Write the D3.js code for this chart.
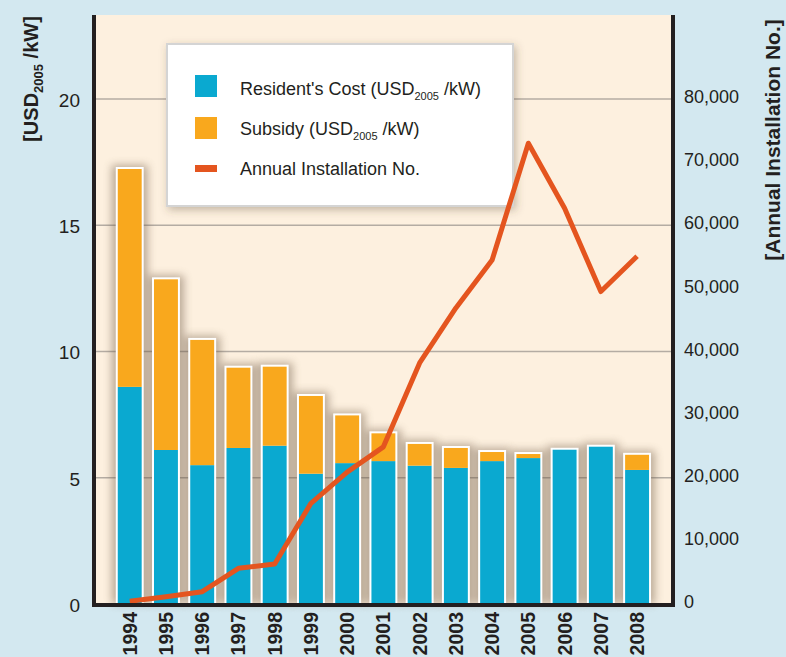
<!DOCTYPE html>
<html>
<head>
	<title>Resident's cost, subsidy and annual installations</title>
	<script src="https://d3js.org/d3.v7.min.js"></script>

	<style>
	body {
		margin: 0;
		background: #d3e8f0;
	}
	text {
		font-family: "Liberation Sans", Arial, sans-serif;
		fill: #231f20;
	}
	</style>
</head>

<body>
<script type="text/javascript">

	//Values
	var years = ["1994", "1995", "1996", "1997", "1998", "1999", "2000", "2001",
		"2002", "2003", "2004", "2005", "2006", "2007", "2008"]
	var residentCost = [8.6, 6.1, 5.5, 6.18, 6.27, 5.16, 5.58, 5.66, 5.48, 5.39, 5.66, 5.78, 6.11, 6.23, 5.31]
	var subsidy = [8.63, 6.76, 4.96, 3.18, 3.13, 3.08, 1.89, 1.1, 0.86, 0.79, 0.36, 0.16, 0, 0, 0.6]
	var installations = [450, 1150, 1950, 5650, 6340, 15950, 20900, 24900, 38200, 46900, 54500, 73000, 62700, 49500, 55100]
	var leftTicks = [0, 5, 10, 15, 20]
	var rightTicks = [0, 10000, 20000, 30000, 40000, 50000, 60000, 70000, 80000]

	//Size of the page and of the plot area
	var width = 786
	var height = 657
	var plot = {left: 96, right: 671, top: 15, bottom: 604}

	var blue = "#0aa9d0"
	var orange = "#f9a81d"
	var red = "#e4551f"

	//Create the SVG
	var svg = d3.select("body")
				.append("svg")
				.attr("width", width)
				.attr("height", height)

	var defs = svg.append("defs")

	//soft shadow behind the bars
	defs.append("filter")
		.attr("id", "barShadow")
		.attr("x", "-100%").attr("y", "-20%")
		.attr("width", "300%").attr("height", "140%")
		.append("feGaussianBlur")
		.attr("stdDeviation", 4)

	//drop shadow for the legend box
	defs.append("filter")
		.attr("id", "boxShadow")
		.attr("x", "-10%").attr("y", "-15%")
		.attr("width", "120%").attr("height", "135%")
		.append("feDropShadow")
		.attr("dx", 2).attr("dy", 3)
		.attr("stdDeviation", 4)
		.attr("flood-color", "#5a4632")
		.attr("flood-opacity", 0.35)

	//Scales
	var x = d3.scaleBand()
			.domain(years)
			.range([111.6, 655.2])
			.paddingInner(0.34)
			.paddingOuter(0.17)

	var y = d3.scaleLinear().domain([0, 23.33]).range([plot.bottom, plot.top])
	var y2 = d3.scaleLinear().domain([0, 93320]).range([plot.bottom, plot.top])

	var bw = x.bandwidth()

	//Plot background
	svg.append("rect")
		.attr("x", plot.left)
		.attr("y", plot.top)
		.attr("width", plot.right - plot.left)
		.attr("height", plot.bottom - plot.top)
		.attr("fill", "#fdf0df")

	//Gridlines
	svg.append("g")
		.selectAll("line")
		.data(leftTicks.slice(1))
		.enter().append("line")
		.attr("x1", plot.left)
		.attr("x2", plot.right)
		.attr("y1", function(d) { return y(d) })
		.attr("y2", function(d) { return y(d) })
		.attr("stroke", "#b4aca3")
		.attr("stroke-width", 1.5)

	//Stack the two cost series
	var table = years.map(function(yr, i) {
		return {year: yr, cost: residentCost[i], subsidy: subsidy[i], total: residentCost[i] + subsidy[i]}
	})
	var stacked = d3.stack().keys(["cost", "subsidy"])(table)

	//Shadows first so that they sit under every bar
	svg.append("g")
		.selectAll("rect")
		.data(table)
		.enter().append("rect")
		.attr("x", function(d) { return x(d.year) - 6 })
		.attr("y", function(d) { return y(d.total) - 4 })
		.attr("width", bw + 12)
		.attr("height", function(d) { return plot.bottom - y(d.total) + 4 })
		.attr("fill", "#6b5440")
		.attr("opacity", 0.45)
		.attr("filter", "url(#barShadow)")

	//White frame round each bar
	svg.append("g")
		.selectAll("rect")
		.data(table)
		.enter().append("rect")
		.attr("x", function(d) { return x(d.year) - 2 })
		.attr("y", function(d) { return y(d.total) - 2 })
		.attr("width", bw + 4)
		.attr("height", function(d) { return plot.bottom - y(d.total) + 2 })
		.attr("fill", "#ffffff")

	//The stacked bars
	svg.append("g")
		.selectAll("g")
		.data(stacked)
		.enter().append("g")
		.attr("fill", function(d) { return d.key == "cost" ? blue : orange })
		.selectAll("rect")
		.data(function(d) { return d })
		.enter().append("rect")
		.attr("x", function(d) { return x(d.data.year) })
		.attr("y", function(d) { return y(d[1]) })
		.attr("width", bw)
		.attr("height", function(d) { return y(d[0]) - y(d[1]) })

	//Legend
	var legend = svg.append("g")
		.attr("transform", "translate(167,44)")

	legend.append("rect")
		.attr("width", 346)
		.attr("height", 162)
		.attr("fill", "#ffffff")
		.attr("stroke", "#d4d4d4")
		.attr("stroke-width", 2)
		.attr("filter", "url(#boxShadow)")

	legend.append("rect").attr("x", 28).attr("y", 31).attr("width", 22).attr("height", 22).attr("fill", blue)
	legend.append("rect").attr("x", 28).attr("y", 73).attr("width", 22).attr("height", 22).attr("fill", orange)
	legend.append("rect").attr("x", 28).attr("y", 121).attr("width", 22).attr("height", 7).attr("fill", red)

	var legendText = [
		{y: 51, before: "Resident's Cost (USD", sub: "2005", after: " /kW)"},
		{y: 91, before: "Subsidy (USD", sub: "2005", after: " /kW)"},
		{y: 131, before: "Annual Installation No.", sub: "", after: ""}
	]

	legendText.forEach(function(d) {
		var t = legend.append("text")
			.attr("x", 73)
			.attr("y", d.y)
			.attr("font-size", 18)
		t.append("tspan").text(d.before)
		if (d.sub) {
			t.append("tspan").attr("font-size", 11).attr("dy", 5).text(d.sub)
			t.append("tspan").attr("dy", -5).text(d.after)
		}
	})

	//Installation line, on top of the legend like the original
	var line = d3.line()
		.x(function(d, i) { return x(years[i]) + bw / 2 })
		.y(function(d) { return y2(d) })

	svg.append("path")
		.datum(installations)
		.attr("d", line)
		.attr("fill", "none")
		.attr("stroke", red)
		.attr("stroke-width", 5)
		.attr("stroke-linejoin", "round")

	//Axis lines (thick black frame on three sides)
	var frame = svg.append("g")
		.attr("stroke", "#231f20")
		.attr("stroke-width", 4)
	frame.append("line").attr("x1", 94).attr("x2", 94).attr("y1", plot.top).attr("y2", plot.bottom + 3)
	frame.append("line").attr("x1", 673).attr("x2", 673).attr("y1", plot.top).attr("y2", plot.bottom + 3)
	frame.append("line").attr("x1", 92).attr("x2", 675).attr("y1", plot.bottom + 1).attr("y2", plot.bottom + 1)

	//Left tick labels
	var leftAxis = svg.append("g")
		.attr("transform", "translate(94,0)")
		.call(d3.axisLeft(y).tickValues(leftTicks).tickSize(0).tickPadding(14))
	leftAxis.select(".domain").remove()
	leftAxis.selectAll("text")
		.attr("font-size", 19)
		.attr("font-family", "Liberation Sans, Arial, sans-serif")
		.attr("dy", "0.38em")

	//Right tick labels
	var rightAxis = svg.append("g")
		.attr("transform", "translate(673,0)")
		.call(d3.axisRight(y2).tickValues(rightTicks).tickFormat(d3.format(",")).tickSize(0).tickPadding(11))
	rightAxis.select(".domain").remove()
	rightAxis.selectAll("text")
		.attr("font-size", 18)
		.attr("font-family", "Liberation Sans, Arial, sans-serif")
		.attr("dy", "0.2em")

	//Year labels, turned on their side
	var bottomAxis = svg.append("g")
		.attr("transform", "translate(0," + plot.bottom + ")")
		.call(d3.axisBottom(x).tickSize(0))
	bottomAxis.select(".domain").remove()
	bottomAxis.selectAll("text")
		.attr("transform", "rotate(-90)")
		.attr("x", -8)
		.attr("y", 0)
		.attr("dy", "0.36em")
		.attr("text-anchor", "end")
		.attr("font-size", 19.5)
		.attr("font-weight", "bold")
		.attr("font-family", "Liberation Sans, Arial, sans-serif")

	//Axis titles
	var leftTitle = svg.append("text")
		.attr("transform", "translate(38,79) rotate(-90)")
		.attr("text-anchor", "middle")
		.attr("font-size", 20)
		.attr("font-weight", "bold")
	leftTitle.append("tspan").text("[USD")
	leftTitle.append("tspan").attr("font-size", 13).attr("dy", 5).text("2005")
	leftTitle.append("tspan").attr("dy", -5).text(" /kW]")

	svg.append("text")
		.attr("transform", "translate(780,140) rotate(-90)")
		.attr("text-anchor", "middle")
		.attr("font-size", 21)
		.attr("font-weight", "bold")
		.text("[Annual Installation No.]")

</script>
</body>
</html>
